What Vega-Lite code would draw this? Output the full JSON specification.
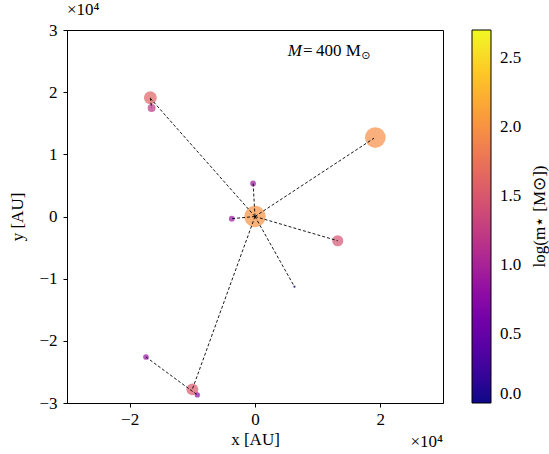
{
  "$schema": "https://vega.github.io/schema/vega-lite/v6.json",
  "width": 376,
  "height": 373,
  "autosize": {"type": "none"},
  "padding": {"left": 67, "top": 30, "right": 106, "bottom": 51},
  "background": "white",
  "config": {
    "font": "Liberation Serif",
    "view": {"stroke": "black", "strokeWidth": 1},
    "axis": {
      "labelFont": "Liberation Serif", "titleFont": "Liberation Serif",
      "labelFontSize": 17, "titleFontSize": 17, "labelColor": "black", "titleColor": "black",
      "tickColor": "black", "domainColor": "black", "grid": false, "titleFontWeight": "normal",
      "tickSize": 4, "tickWidth": 1
    }
  },
  "datasets": {
    "stars": [
      {"x": 0, "y": 0, "m": 100, "logm": 2.0},
      {"x": 19200, "y": 12700, "m": 95, "logm": 1.98},
      {"x": -16700, "y": 19100, "m": 37, "logm": 1.6},
      {"x": -16500, "y": 17450, "m": 14, "logm": 1.2},
      {"x": 13200, "y": -3900, "m": 27, "logm": 1.45},
      {"x": -300, "y": 5300, "m": 7.6, "logm": 0.88},
      {"x": -3700, "y": -350, "m": 7.6, "logm": 0.88},
      {"x": 6300, "y": -11300, "m": 1.2, "logm": 0.1},
      {"x": -17400, "y": -22600, "m": 7, "logm": 0.85},
      {"x": -10000, "y": -27800, "m": 31, "logm": 1.52},
      {"x": -9200, "y": -28700, "m": 6, "logm": 0.8}
    ],
    "links": [
      {"x1": 0, "y1": 0, "x2": -16600, "y2": 18900},
      {"x1": -16700, "y1": 19100, "x2": -16500, "y2": 17450},
      {"x1": 0, "y1": 0, "x2": 19000, "y2": 12600},
      {"x1": 0, "y1": 0, "x2": 13200, "y2": -3900},
      {"x1": 0, "y1": 0, "x2": 6300, "y2": -11300},
      {"x1": 0, "y1": 0, "x2": -300, "y2": 5300},
      {"x1": 0, "y1": 0, "x2": -3700, "y2": -350},
      {"x1": 0, "y1": 0, "x2": -10000, "y2": -27800},
      {"x1": -17400, "y1": -22600, "x2": -9200, "y2": -28700}
    ]
  },
  "layer": [
    {
      "data": {"name": "stars"},
      "mark": {"type": "circle", "fillOpacity": 0.7, "strokeWidth": 0},
      "encoding": {
        "x": {"field": "x", "type": "quantitative",
          "scale": {"domain": [-30000, 30000], "nice": false, "zero": false},
          "axis": {"title": "x [AU]", "values": [-20000, 0, 20000], "labelExpr": "format(datum.value/10000, 'd')", "labelPadding": 4, "titlePadding": 4}},
        "y": {"field": "y", "type": "quantitative",
          "scale": {"domain": [-30000, 30000], "nice": false, "zero": false},
          "axis": {"title": "y [AU]", "values": [-30000, -20000, -10000, 0, 10000, 20000, 30000], "labelExpr": "format(datum.value/10000, 'd')", "labelPadding": 6, "titlePadding": 12}},
        "color": {"field": "logm", "type": "quantitative",
          "scale": {"scheme": "plasma", "domain": [0, 2.699]},
          "legend": {
            "orient": "right", "offset": 29, "padding": 0, "direction": "vertical",
            "gradientLength": 373, "gradientThickness": 19,
            "gradientStrokeColor": "black", "gradientStrokeWidth": 1,
            "values": [0, 0.5, 1, 1.5, 2, 2.5], "format": ".1f",
            "labelFont": "Liberation Serif", "labelFontSize": 17, "labelColor": "black", "labelOffset": 9, "labelOverlap": false,
            "title": null,
            "encode": {
              "gradient": {"opacity": {"value": 0.85}}
            }
          }},
        "size": {"field": "m", "type": "quantitative", "scale": {"domain": [0, 100], "range": [0, 452]}, "legend": null}
      }
    },
    {
      "data": {"name": "links"},
      "mark": {"type": "rule", "strokeDash": [3, 2], "strokeWidth": 0.9, "color": "black"},
      "encoding": {
        "x": {"field": "x1", "type": "quantitative"},
        "y": {"field": "y1", "type": "quantitative"},
        "x2": {"field": "x2"},
        "y2": {"field": "y2"}
      }
    },
    {
      "data": {"values": [{}]},
      "mark": {"type": "text", "text": "log(m⋆ [M⊙])", "font": "Liberation Serif", "fontSize": 17, "angle": 270, "align": "center", "baseline": "middle", "color": "black"},
      "encoding": {"x": {"datum": 45500, "type": "quantitative"}, "y": {"datum": 0, "type": "quantitative"}}
    },
    {
      "data": {"values": [{}]},
      "mark": {"type": "text", "text": "M", "fontStyle": "italic", "font": "Liberation Serif", "fontSize": 17, "align": "right", "baseline": "alphabetic", "color": "black"},
      "encoding": {"x": {"datum": 7500, "type": "quantitative"}, "y": {"datum": 25800, "type": "quantitative"}}
    },
    {
      "data": {"values": [{}]},
      "mark": {"type": "text", "text": "=\u2009400 M", "font": "Liberation Serif", "fontSize": 17, "align": "left", "baseline": "alphabetic", "dx": 1, "color": "black"},
      "encoding": {"x": {"datum": 7500, "type": "quantitative"}, "y": {"datum": 25800, "type": "quantitative"}}
    },
    {
      "data": {"values": [{}]},
      "mark": {"type": "text", "text": "⊙", "font": "DejaVu Sans", "fontSize": 11, "align": "left", "baseline": "alphabetic", "dy": 3, "color": "black"},
      "encoding": {"x": {"datum": 16950, "type": "quantitative"}, "y": {"datum": 25800, "type": "quantitative"}}
    },
    {
      "data": {"values": [{}]},
      "mark": {"type": "text", "text": "×10⁴", "font": "Liberation Serif", "fontSize": 17, "align": "left", "baseline": "alphabetic", "dy": -15, "color": "black"},
      "encoding": {"x": {"datum": -30000, "type": "quantitative"}, "y": {"datum": 30000, "type": "quantitative"}}
    },
    {
      "data": {"values": [{}]},
      "mark": {"type": "text", "text": "×10⁴", "font": "Liberation Serif", "fontSize": 17, "align": "right", "baseline": "alphabetic", "dy": 44, "color": "black"},
      "encoding": {"x": {"datum": 30000, "type": "quantitative"}, "y": {"datum": -30000, "type": "quantitative"}}
    }
  ]
}
